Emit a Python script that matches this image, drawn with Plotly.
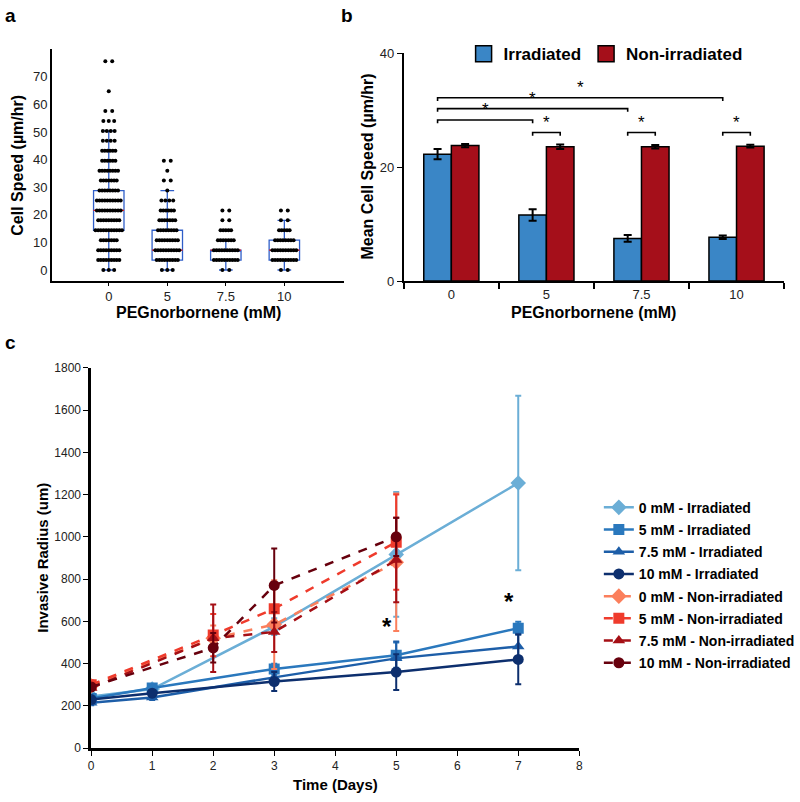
import plotly.graph_objects as go

W, H = 800, 802
FONT = "Liberation Sans, Arial, sans-serif"

# ---------------- Panel a data ----------------
a_categories = ["0", "5", "7.5", "10"]
a_levels = [0, 3.6, 7.2, 10.8, 14.4, 18, 21.6, 25.2, 28.8, 32.4, 36, 39.6,
            43.2, 46.8, 50.4, 54, 57.6, 64.8, 75.6]
a_counts_0 = [3, 9, 9, 7, 11, 9, 10, 10, 8, 7, 8, 6, 6, 4, 4, 3, 2, 1, 2]
a_counts_5 = [3, 9, 10, 9, 8, 7, 6, 4, 1, 2, 1, 2]
a_counts_75 = [2, 10, 10, 7, 5, 2, 2]
a_counts_10 = [2, 10, 10, 8, 5, 2, 2]
a_q1 = [14.4, 3.6, 3.6, 3.6]
a_median = [21.6, 7.2, 7.2, 7.2]
a_q3 = [28.8, 14.4, 7.2, 10.8]
a_lowerfence = [0, 0, 0, 0]
a_upperfence = [50.4, 28.8, 10.8, 18.0]

# ---------------- Panel b data ----------------
b_categories = ["0", "5", "7.5", "10"]
b_irradiated = [22.3, 11.6, 7.5, 7.7]
b_irradiated_err = [0.9, 1.0, 0.6, 0.3]
b_nonirradiated = [23.8, 23.6, 23.6, 23.7]
b_nonirradiated_err = [0.3, 0.4, 0.3, 0.25]
# significance brackets: (cat_a, series_a, cat_b, series_b, level)
b_brackets = [(0, "I", 1, "I", 28.3), (0, "I", 2, "I", 30.3), (0, "I", 3, "I", 32.2),
              (1, "I", 1, "N", 26.1), (2, "I", 2, "N", 26.1), (3, "I", 3, "N", 26.1)]

# ---------------- Panel c data ----------------
c_days_irr = [0, 1, 3, 5, 7]
c_days_non = [0, 2, 3, 5]
c_series = [
    ("0 mM - Irradiated", c_days_irr, [245, 280, 575, 917, 1255], [15, 20, 40, 295, 413]),
    ("5 mM - Irradiated", c_days_irr, [235, 285, 375, 440, 568], [15, 15, 25, 60, 30]),
    ("7.5 mM - Irradiated", c_days_irr, [215, 240, 335, 425, 481], [12, 12, 30, 80, 60]),
    ("10 mM - Irradiated", c_days_irr, [230, 260, 315, 360, 420], [12, 15, 45, 85, 118]),
    ("0 mM - Non-irradiated", c_days_non, [295, 520, 585, 880], [20, 60, 210, 325]),
    ("5 mM - Non-irradiated", c_days_non, [300, 535, 660, 975], [20, 100, 110, 225]),
    ("7.5 mM - Non-irradiated", c_days_non, [285, 520, 550, 890], [15, 160, 95, 200]),
    ("10 mM - Non-irradiated", c_days_non, [290, 475, 770, 1000], [15, 70, 175, 90]),
]
c_colors = ["#6baed6", "#2a78bd", "#1d5ea8", "#0d2f6e",
            "#fb7f5c", "#ef3b2c", "#a50f15", "#67000d"]
c_symbols = ["diamond", "square", "triangle-up", "circle",
             "diamond", "square", "triangle-up", "circle"]
c_stars = [(4.85, 575), (6.85, 695)]

fig = go.Figure()

# ---------------- Panel a ----------------
positions = [1, 2, 3, 4]
fig.add_trace(go.Box(
    x=positions, q1=a_q1, median=a_median, q3=a_q3,
    lowerfence=a_lowerfence, upperfence=a_upperfence,
    boxpoints=False, width=0.52, whiskerwidth=0.45,
    line=dict(color="#2f5ec8", width=1.3), fillcolor="rgba(0,0,0,0)",
    xaxis="x", yaxis="y", showlegend=False, hoverinfo="skip"))
mx, my = [], []
for p, m in zip(positions, a_median):
    mx += [p - 0.26, p + 0.26, None]
    my += [m, m, None]
fig.add_trace(go.Scatter(x=mx, y=my, mode="lines", line=dict(color="#ff1a1a", width=1.3),
                         xaxis="x", yaxis="y", showlegend=False, hoverinfo="skip"))
px_per_unit = 59.67
dx, dy = [], []
for p, counts in zip(positions, [a_counts_0, a_counts_5, a_counts_75, a_counts_10]):
    for lev, n in zip(a_levels, counts):
        if n <= 0:
            continue
        sp = max(2.7, 10 - 1.5 * n) / px_per_unit
        for k in range(n):
            dx.append(p + (k - (n - 1) / 2) * sp)
            dy.append(lev)
fig.add_trace(go.Scatter(x=dx, y=dy, mode="markers",
                         marker=dict(color="black", size=4.0),
                         xaxis="x", yaxis="y", showlegend=False, hoverinfo="skip"))

# ---------------- Panel b ----------------
b_pos = list(range(len(b_categories)))
bargap = 0.42
off = (1 - bargap) / 4
b_colors = {"I": "#3a86c6", "N": "#a50f1a"}
fig.add_trace(go.Bar(x=b_pos, y=b_irradiated, name="Irradiated", showlegend=False,
                     marker=dict(color=b_colors["I"], line=dict(color="black", width=1.5)),
                     error_y=dict(type="data", array=b_irradiated_err, color="black",
                                  thickness=2, width=4),
                     xaxis="x2", yaxis="y2"))
fig.add_trace(go.Bar(x=b_pos, y=b_nonirradiated, name="Non-irradiated", showlegend=False,
                     marker=dict(color=b_colors["N"], line=dict(color="black", width=1.5)),
                     error_y=dict(type="data", array=b_nonirradiated_err, color="black",
                                  thickness=2, width=4),
                     xaxis="x2", yaxis="y2"))
for key, label in [("I", "Irradiated"), ("N", "Non-irradiated")]:
    fig.add_trace(go.Scatter(x=[None], y=[None], mode="markers", name="<b>" + label + "</b>",
                             marker=dict(symbol="square", size=16, color=b_colors[key],
                                         line=dict(color="black", width=1.5)),
                             xaxis="x2", yaxis="y2", legend="legend"))
bx, by = [], []
annotations = []
for ca, sa, cb, sb, lev in b_brackets:
    xa = ca + (-off if sa == "I" else off)
    xb = cb + (-off if sb == "I" else off)
    bx += [xa, xa, xb, xb, None]
    by += [lev - 0.55, lev, lev, lev - 0.55, None]
    annotations.append(dict(x=(xa + xb) / 2, y=lev - 0.2, xref="x2", yref="y2", text="*",
                            showarrow=False, yanchor="bottom",
                            font=dict(size=17, family=FONT, color="black")))
fig.add_trace(go.Scatter(x=bx, y=by, mode="lines", line=dict(color="black", width=1.6),
                         xaxis="x2", yaxis="y2", showlegend=False, hoverinfo="skip"))

# ---------------- Panel c ----------------
for i, (name, days, vals, errs) in enumerate(c_series):
    fig.add_trace(go.Scatter(
        x=days, y=vals, name="<b>" + name + "</b>", mode="lines+markers",
        line=dict(color=c_colors[i], width=2.5, dash="solid" if i < 4 else "dash"),
        marker=dict(color=c_colors[i], symbol=c_symbols[i], size=11 if i % 4 != 0 else 12),
        error_y=dict(type="data", array=errs, color=c_colors[i], thickness=2, width=3),
        xaxis="x3", yaxis="y3", legend="legend2", legendgroup=name))
for sx, sy in c_stars:
    annotations.append(dict(x=sx, y=sy, xref="x3", yref="y3", text="<b>*</b>", showarrow=False,
                            font=dict(size=24, family=FONT, color="black")))

# ---------------- text labels ----------------
def ann(x, y, text, size, angle=0, anchor="center"):
    annotations.append(dict(x=x / W, y=1 - y / H, xref="paper", yref="paper",
                            text=text, showarrow=False, textangle=angle,
                            xanchor=anchor, yanchor="middle",
                            font=dict(size=size, family=FONT, color="black")))

ann(0, 9, "<b>a</b>", 19, anchor="left")
ann(343, 9, "<b>b</b>", 19, anchor="left")
ann(0, 342, "<b>c</b>", 19, anchor="left")
ann(15, 161, "<b>Cell Speed (µm/hr)</b>", 16, angle=-90)
ann(199, 311, "<b>PEGnorbornene (mM)</b>", 16)
ann(372, 163, "<b>Mean Cell Speed (µm/hr)</b>", 16, angle=-90)
ann(603, 311, "<b>PEGnorbornene (mM)</b>", 16)
ann(40, 561, "<b>Invasive Radius (um)</b>", 15, angle=-90)
ann(339, 792, "<b>Time (Days)</b>", 15)

axis_common = dict(showline=True, linecolor="black", showgrid=False, zeroline=False,
                   tickfont=dict(size=13, family=FONT, color="#222"), tickcolor="black")

fig.update_layout(
    width=W, height=H, margin=dict(l=0, r=0, t=0, b=0),
    paper_bgcolor="white", plot_bgcolor="white",
    font=dict(family=FONT, color="black"),
    barmode="group", bargap=bargap, bargroupgap=0,
    annotations=annotations,
    xaxis=dict(domain=[50 / W, 348 / W], range=[0.03, 5.02], tickvals=positions,
               ticktext=a_categories, ticks="outside", ticklen=3, linewidth=2,
               anchor="y", **axis_common),
    yaxis=dict(domain=[1 - 279 / H, 1 - 43 / H], range=[-3.9, 80],
               tickvals=list(range(0, 80, 10)), ticks="", linewidth=2,
               anchor="x", **axis_common),
    xaxis2=dict(domain=[409 / W, 797 / W], range=[-0.5, 3.5], tickvals=b_pos,
                ticktext=b_categories, ticks="", linewidth=2, anchor="y2",
                minor=dict(tick0=0.5, dtick=1, ticks="outside", ticklen=6,
                           tickwidth=1.5, tickcolor="black"),
                **axis_common),
    yaxis2=dict(domain=[1 - 279.3 / H, 1 - 47.3 / H], range=[0, 40], tickvals=[0, 20, 40],
                ticks="outside", ticklen=5, linewidth=2, anchor="x2", **axis_common),
    xaxis3=dict(domain=[90 / W, 588 / W], range=[0, 8], dtick=1, tick0=0,
                ticks="outside", ticklen=5, linewidth=2.5, anchor="y3", **axis_common),
    yaxis3=dict(domain=[1 - 755.3 / H, 1 - 367.7 / H], range=[0, 1800], dtick=200, tick0=0,
                ticks="outside", ticklen=5, linewidth=2.5, anchor="x3", **axis_common),
    legend=dict(orientation="h", x=470 / W, y=1 - 48 / H, xanchor="left", yanchor="middle",
                font=dict(size=17, family=FONT, color="black"), bgcolor="rgba(0,0,0,0)",
                itemwidth=30, itemclick=False),
    legend2=dict(x=608 / W, y=1 - 494 / H, xanchor="left", yanchor="top",
                 font=dict(size=14, family=FONT, color="black"), bgcolor="rgba(0,0,0,0)",
                 tracegroupgap=1, itemclick=False),
)
fig.update_xaxes(tickfont=dict(size=12), selector=dict(anchor="y3"))
fig.update_yaxes(tickfont=dict(size=12), selector=dict(anchor="x3"))

fig.write_html("out.html", config={"displayModeBar": False},
               post_script="document.body.style.margin='0px';")
